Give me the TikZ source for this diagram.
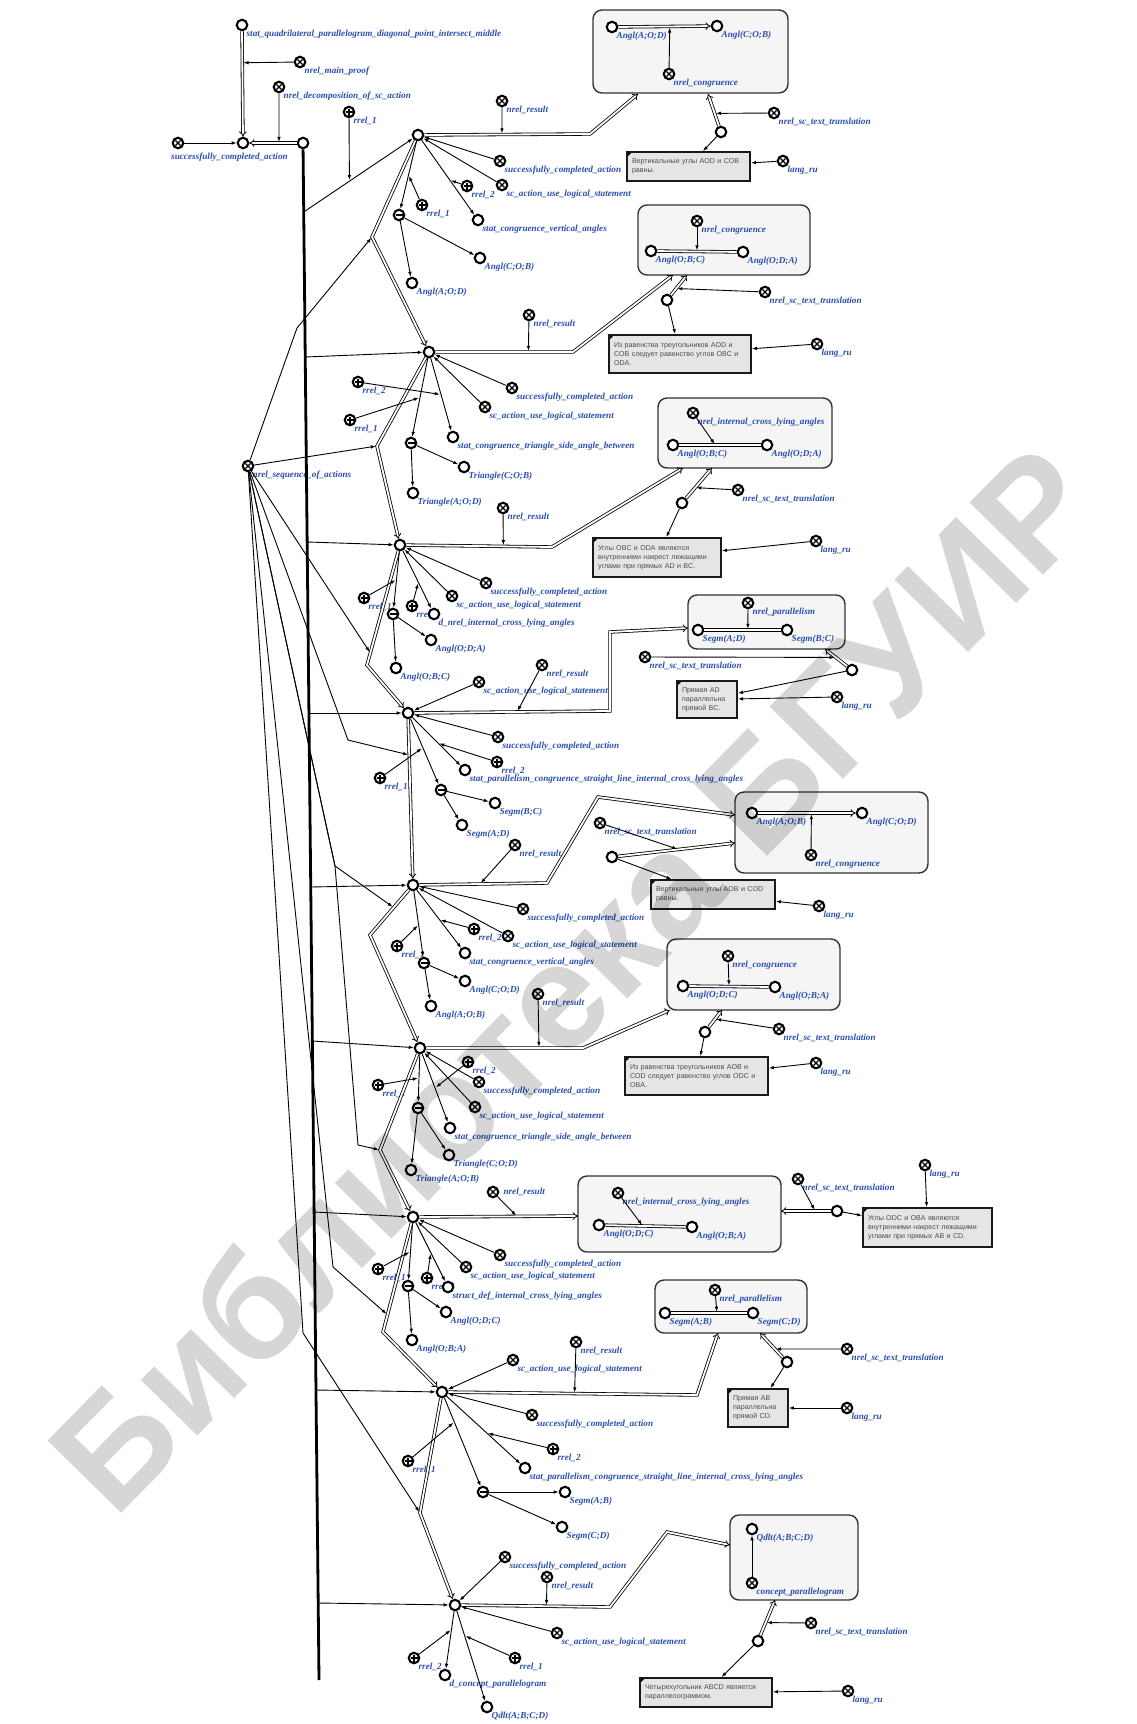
\documentclass[tikz,border=0pt]{standalone}
\usepackage{fontspec}
\usetikzlibrary{arrows.meta,calc}
\newfontfamily\lblfont{Liberation Serif}
\newfontfamily\boxfont{Liberation Sans}
\definecolor{lblblue}{RGB}{40,78,175}
\tikzset{
 lbl/.style={font=\lblfont\bfseries\itshape\fontsize{9.2}{10}\selectfont, text=lblblue, inner sep=0pt},
 lb/.style={label={[lbl]-45:#1}},
 nd/.style={circle, draw=black, line width=2.1pt, minimum size=10.5pt, inner sep=0pt, fill=white},
 el/.style={nd, lb={#1}}, el/.default={},
 cls/.style={nd, lb={#1}, path picture={\draw[line width=1.2pt]
   ([shift={(-2.6pt,-2.6pt)}]path picture bounding box.center) -- ([shift={(2.6pt,2.6pt)}]path picture bounding box.center)
   ([shift={(-2.6pt,2.6pt)}]path picture bounding box.center) -- ([shift={(2.6pt,-2.6pt)}]path picture bounding box.center);}},
 cls/.default={},
 rol/.style={nd, lb={#1}, path picture={\draw[line width=1.2pt]
   ([shift={(-3.5pt,0pt)}]path picture bounding box.center) -- ([shift={(3.5pt,0pt)}]path picture bounding box.center)
   ([shift={(0pt,3.5pt)}]path picture bounding box.center) -- ([shift={(0pt,-3.5pt)}]path picture bounding box.center);}},
 rol/.default={},
 neg/.style={nd, path picture={\draw[line width=1.3pt]
   ([shift={(-3.5pt,0pt)}]path picture bounding box.center) -- ([shift={(3.5pt,0pt)}]path picture bounding box.center);}},
 arr/.style={line width=0.9pt, -{Latex[length=5pt,width=3.6pt]}},
 arrm/.style={arr, shorten >=1.2pt},
 dbl/.style={double, double distance=1.8pt, line width=0.8pt, -{Implies}},
 dblu/.style={double, double distance=1.8pt, line width=0.8pt},
 bus/.style={line width=2.8pt},
 rbox/.style={rectangle, rounded corners=9pt, draw=black!80, line width=1.4pt, fill=black!4},
 tbox/.style={rectangle, draw=black!90, line width=1.8pt, fill=black!10, align=left,
   font=\boxfont\fontsize{7.1}{9}\selectfont, text=black!70, inner xsep=5pt, inner ysep=2pt,
   path picture={\fill[black] (path picture bounding box.north west) -- ++(5pt,0pt) -- ++(-5pt,-5pt) -- cycle;}},
 wmark/.style={font=\boxfont\bfseries\fontsize{150}{150}\selectfont, text=black, text opacity=0.16, rotate=45.5, inner sep=0pt},
}
\begin{document}
\begin{tikzpicture}[x=1pt,y=-1pt]
\useasboundingbox (0,0) rectangle (1136,1724);

% ---------------- top ----------------
\node[el={stat\_quadrilateral\_parallelogram\_diagonal\_point\_intersect\_middle}] (stat) at (242,25) {};
\node[cls={nrel\_main\_proof}] (mainproof) at (300,62) {};
\node[cls={nrel\_decomposition\_of\_sc\_action}] (decomp) at (279,87) {};
\node[cls, label={[lbl,anchor=north west,xshift=-7pt,yshift=-4pt]-90:successfully\_completed\_action}] (sca0) at (178,143) {};
\node[el] (P) at (243,143) {};
\node[el] (D) at (303,143) {};
\node[rol={rrel\_1}] (rr0) at (349,112) {};
\node[cls={nrel\_sequence\_of\_actions}] (seq) at (248,466) {};
\coordinate (busend) at (319,1680);
\coordinate (b1) at (303.7,212);
\coordinate (b2) at (305.2,357);
\coordinate (b3) at (307.2,542);
\coordinate (b4) at (308.9,713);
\coordinate (b5) at (310.7,887);
\coordinate (b6) at (312.3,1041);
\coordinate (b7) at (314.1,1212);
\coordinate (b8) at (316.0,1390);
\coordinate (b9) at (318.2,1603);

% ---------------- block 1 ----------------
\node[el] (A1) at (418,135) {};
\node[cls={nrel\_result}] (res1) at (502,101) {};
\node[rbox, minimum width=195pt, minimum height=83pt] (box1) at (690.5,51.5) {};
\node[el={Angl(A;O;D)}] (o1a) at (612,27) {};
\node[el={Angl(C;O;B)}] (o1b) at (717,26) {};
\node[cls={nrel\_congruence}] (cong1) at (669,74) {};
\node[el] (tr1) at (721,132) {};
\node[cls={nrel\_sc\_text\_translation}] (tt1) at (774,113) {};
\node[tbox, minimum width=123pt, minimum height=29pt, text width=113pt] (text1) at (688.5,166.5) {Вертикальные углы AOD и COB\\равны.};
\node[cls={lang\_ru}] (lr1) at (783,161) {};
\node[cls={successfully\_completed\_action}] (s1) at (500,161) {};
\node[cls={sc\_action\_use\_logical\_statement}] (u1) at (502,185) {};
\node[rol={rrel\_2}] (r21) at (467,186) {};
\node[el={stat\_congruence\_vertical\_angles}] (st1) at (478,220) {};
\node[rol={rrel\_1}] (r11) at (422,205) {};
\node[neg] (m1) at (399,215) {};
\node[el={Angl(C;O;B)}] (g1a) at (480,258) {};
\node[el={Angl(A;O;D)}] (g1b) at (412,283) {};
\coordinate (c1) at (590,134); \coordinate (e1) at (638,94); \coordinate (f1) at (708,94);

% ---------------- block 2 ----------------
\node[el] (A2) at (429,352) {};
\node[cls={nrel\_result}] (res2) at (529,315) {};
\node[rbox, minimum width=172pt, minimum height=70pt] (box2) at (724,240) {};
\node[cls={nrel\_congruence}] (cong2) at (697,221) {};
\node[el={Angl(O;B;C)}] (o2a) at (651,251) {};
\node[el={Angl(O;D;A)}] (o2b) at (743,252) {};
\node[el] (tr2) at (667,300) {};
\node[cls={nrel\_sc\_text\_translation}] (tt2) at (765,292) {};
\node[tbox, minimum width=142pt, minimum height=38pt, text width=132pt] (text2) at (680,354) {Из равенства треугольников AOD и\\COB следует равенство углов OBC и\\ODA.};
\node[cls={lang\_ru}] (lr2) at (817,344) {};
\node[cls={successfully\_completed\_action}] (s2) at (512,388) {};
\node[cls={sc\_action\_use\_logical\_statement}] (u2) at (485,407) {};
\node[el={stat\_congruence\_triangle\_side\_angle\_between}] (st2) at (453,437) {};
\node[rol={rrel\_2}] (r22) at (358,382) {};
\node[rol={rrel\_1}] (r12) at (350,420) {};
\node[neg] (m2) at (411,443) {};
\node[el={Triangle(C;O;B)}] (g2a) at (464,467) {};
\node[el={Triangle(A;O;D)}] (g2b) at (413,493) {};
\coordinate (c2) at (573,352); \coordinate (e2) at (673,275); \coordinate (f2) at (687,275);

% ---------------- block 3 ----------------
\node[el] (A3) at (400,545) {};
\node[cls={nrel\_result}] (res3) at (503,508) {};
\node[rbox, minimum width=174pt, minimum height=70pt] (box3) at (745,433) {};
\node[cls={nrel\_internal\_cross\_lying\_angles}] (ica3) at (693,413) {};
\node[el={Angl(O;B;C)}] (o3a) at (673,445) {};
\node[el={Angl(O;D;A)}] (o3b) at (767,445) {};
\node[el] (tr3) at (682,503) {};
\node[cls={nrel\_sc\_text\_translation}] (tt3) at (738,490) {};
\node[tbox, minimum width=128pt, minimum height=39pt, text width=118pt] (text3) at (657,557.5) {Углы OBC и ODA являются\\внутренними накрест лежащими\\углами при прямых AD и BC.};
\node[cls={lang\_ru}] (lr3) at (816,541) {};
\node[cls={successfully\_completed\_action}] (s3) at (486,583) {};
\node[cls={sc\_action\_use\_logical\_statement}] (u3) at (452,596) {};
\node[rol={rrel\_2}] (r23) at (412,606) {};
\node[rol={rrel\_1}] (r13) at (364,598) {};
\node[el={d\_nrel\_internal\_cross\_lying\_angles}] (st3) at (434,614) {};
\node[neg] (m3) at (393,614) {};
\node[el={Angl(O;D;A)}] (g3a) at (431,640) {};
\node[el={Angl(O;B;C)}] (g3b) at (396,668) {};
\coordinate (c3) at (552,547); \coordinate (e3) at (683,468); \coordinate (f3) at (712,468);

% ---------------- block 4 ----------------
\node[el] (A4) at (408,713) {};
\node[cls={nrel\_result}] (res4) at (542,665) {};
\node[cls={sc\_action\_use\_logical\_statement}] (u4) at (479,682) {};
\node[rbox, minimum width=157pt, minimum height=54pt] (box4) at (766.5,622) {};
\node[cls={nrel\_parallelism}] (par4) at (748,603) {};
\node[el={Segm(A;D)}] (o4a) at (698,630) {};
\node[el={Segm(B;C)}] (o4b) at (787,630) {};
\node[el] (tr4) at (852,670) {};
\node[cls={nrel\_sc\_text\_translation}] (tt4) at (645,657) {};
\node[tbox, minimum width=60pt, minimum height=37pt, text width=50pt] (text4) at (707,699.5) {Прямая AD\\параллельна\\прямой BC.};
\node[cls={lang\_ru}] (lr4) at (837,697) {};
\node[cls={successfully\_completed\_action}] (s4) at (498,737) {};
\node[rol={rrel\_2}] (r24) at (497,762) {};
\node[el={stat\_parallelism\_congruence\_straight\_line\_internal\_cross\_lying\_angles}] (st4) at (465,770) {};
\node[rol={rrel\_1}] (r14) at (380,778) {};
\node[neg] (m4) at (441,790) {};
\node[el={Segm(B;C)}] (g4a) at (495,803) {};
\node[el={Segm(A;D)}] (g4b) at (462,825) {};
\coordinate (c4a) at (610,711); \coordinate (c4b) at (610,632); \coordinate (e4) at (688,628); \coordinate (f4) at (825,649);

% ---------------- block 5 ----------------
\node[el] (A5) at (413,885) {};
\node[cls={nrel\_result}] (res5) at (515,845) {};
\node[rbox, minimum width=193pt, minimum height=81pt] (box5) at (831.5,832.5) {};
\node[el={Angl(A;O;B)}] (o5a) at (752,813) {};
\node[el={Angl(C;O;D)}] (o5b) at (862,813) {};
\node[cls={nrel\_congruence}] (cong5) at (811,855) {};
\node[el] (tr5) at (612,857) {};
\node[cls={nrel\_sc\_text\_translation}] (tt5) at (600,823) {};
\node[tbox, minimum width=124pt, minimum height=29pt, text width=114pt] (text5) at (713,894.5) {Вертикальные углы AOB и COD\\равны.};
\node[cls={lang\_ru}] (lr5) at (819,906) {};
\node[cls={successfully\_completed\_action}] (s5) at (523,909) {};
\node[cls={sc\_action\_use\_logical\_statement}] (u5) at (508,936) {};
\node[rol={rrel\_2}] (r25) at (474,929) {};
\node[el={stat\_congruence\_vertical\_angles}] (st5) at (465,953) {};
\node[rol={rrel\_1}] (r15) at (397,946) {};
\node[neg] (m5) at (424,963) {};
\node[el={Angl(C;O;D)}] (g5a) at (465,981) {};
\node[el={Angl(A;O;B)}] (g5b) at (431,1006) {};
\coordinate (c5a) at (547,883); \coordinate (c5b) at (598,797); \coordinate (e5) at (735,815); \coordinate (f5) at (735,843);

% ---------------- block 6 ----------------
\node[el] (A6) at (420,1048) {};
\node[cls={nrel\_result}] (res6) at (538,994) {};
\node[rbox, minimum width=173pt, minimum height=71pt] (box6) at (753.5,974.5) {};
\node[cls={nrel\_congruence}] (cong6) at (728,956) {};
\node[el={Angl(O;D;C)}] (o6a) at (683,986) {};
\node[el={Angl(O;B;A)}] (o6b) at (775,987) {};
\node[el] (tr6) at (705,1032) {};
\node[cls={nrel\_sc\_text\_translation}] (tt6) at (779,1029) {};
\node[tbox, minimum width=143pt, minimum height=38pt, text width=133pt] (text6) at (696.5,1076) {Из равенства треугольников AOB и\\COD следует равенство углов ODC и\\OBA.};
\node[cls={lang\_ru}] (lr6) at (816,1063) {};
\node[rol={rrel\_2}] (r26) at (468,1062) {};
\node[cls={successfully\_completed\_action}] (s6) at (479,1082) {};
\node[cls={sc\_action\_use\_logical\_statement}] (u6) at (475,1107) {};
\node[el={stat\_congruence\_triangle\_side\_angle\_between}] (st6) at (450,1128) {};
\node[rol={rrel\_1}] (r16) at (378,1085) {};
\node[neg] (m6) at (418,1108) {};
\node[el={Triangle(C;O;D)}] (g6a) at (449,1155) {};
\node[el={Triangle(A;O;B)}] (g6b) at (411,1170) {};
\coordinate (c6) at (583,1048); \coordinate (e6) at (670,1010); \coordinate (f6) at (722,1010);

% ---------------- block 7 ----------------
\node[el] (A7) at (413,1217) {};
\node[cls, label={[lbl,xshift=4pt]0:nrel\_result}] (res7) at (493,1192) {};
\node[rbox, minimum width=203pt, minimum height=76pt] (box7) at (679.5,1214) {};
\node[cls={nrel\_internal\_cross\_lying\_angles}] (ica7) at (618,1193) {};
\node[el={Angl(O;D;C)}] (o7a) at (599,1225) {};
\node[el={Angl(O;B;A)}] (o7b) at (692,1227) {};
\node[el] (tr7) at (837,1211) {};
\node[cls={nrel\_sc\_text\_translation}] (tt7) at (798,1179) {};
\node[tbox, minimum width=129pt, minimum height=39pt, text width=119pt] (text7) at (927.5,1227.5) {Углы ODC и OBA являются\\внутренними накрест лежащими\\углами при прямых AB и CD.};
\node[cls={lang\_ru}] (lr7) at (925,1165) {};
\node[cls={successfully\_completed\_action}] (s7) at (500,1255) {};
\node[cls={sc\_action\_use\_logical\_statement}] (u7) at (466,1267) {};
\node[rol={rrel\_2}] (r27) at (427,1278) {};
\node[el={struct\_def\_internal\_cross\_lying\_angles}] (st7) at (448,1287) {};
\node[rol={rrel\_1}] (r17) at (378,1269) {};
\node[neg] (m7) at (408,1286) {};
\node[el={Angl(O;D;C)}] (g7a) at (446,1312) {};
\node[el={Angl(O;B;A)}] (g7b) at (412,1340) {};
\coordinate (e7) at (578,1216); \coordinate (f7) at (781,1211);

% ---------------- block 8 ----------------
\node[el] (A8) at (442,1392) {};
\node[cls={nrel\_result}] (res8) at (576,1342) {};
\node[cls={sc\_action\_use\_logical\_statement}] (u8) at (513,1360) {};
\node[rbox, minimum width=152pt, minimum height=53pt] (box8) at (731,1306.5) {};
\node[cls={nrel\_parallelism}] (par8) at (715,1290) {};
\node[el={Segm(A;B)}] (o8a) at (665,1313) {};
\node[el={Segm(C;D)}] (o8b) at (753,1313) {};
\node[el] (tr8) at (787,1362) {};
\node[cls={nrel\_sc\_text\_translation}] (tt8) at (847,1349) {};
\node[tbox, minimum width=60pt, minimum height=38pt, text width=50pt] (text8) at (758,1408) {Прямая AB\\параллельна\\прямой CD.};
\node[cls={lang\_ru}] (lr8) at (847,1408) {};
\node[cls={successfully\_completed\_action}] (s8) at (532,1415) {};
\node[rol={rrel\_2}] (r28) at (553,1449) {};
\node[el={stat\_parallelism\_congruence\_straight\_line\_internal\_cross\_lying\_angles}] (st8) at (525,1468) {};
\node[rol={rrel\_1}] (r18) at (408,1461) {};
\node[neg] (m8) at (483,1492) {};
\node[el={Segm(A;B)}] (g8a) at (565,1492) {};
\node[el={Segm(C;D)}] (g8b) at (562,1527) {};
\coordinate (c8) at (697,1395); \coordinate (e8) at (718,1333); \coordinate (f8) at (760,1333);

% ---------------- block 9 ----------------
\node[el] (A9) at (455,1605) {};
\node[cls={nrel\_result}] (res9) at (547,1577) {};
\node[cls={successfully\_completed\_action}] (s9) at (505,1557) {};
\node[rbox, minimum width=128pt, minimum height=85pt] (box9) at (794,1557.5) {};
\node[el={Qdlt(A;B;C;D)}] (q9) at (752,1529) {};
\node[cls={concept\_parallelogram}] (cp9) at (752,1583) {};
\node[el] (tr9) at (758,1641) {};
\node[cls={nrel\_sc\_text\_translation}] (tt9) at (811,1623) {};
\node[tbox, minimum width=132pt, minimum height=29pt, text width=122pt] (text9) at (706,1692.5) {Четырехугольник ABCD является\\параллелограммом.};
\node[cls={lang\_ru}] (lr9) at (848,1691) {};
\node[cls={sc\_action\_use\_logical\_statement}] (u9) at (557,1633) {};
\node[rol={rrel\_1}] (r19) at (515,1658) {};
\node[el={Qdlt(A;B;C;D)}] (qd9) at (487,1707) {};
\node[rol={rrel\_2}] (r29) at (414,1658) {};
\node[el={d\_concept\_parallelogram}] (dc9) at (445,1675) {};
\coordinate (c9a) at (610,1607); \coordinate (c9b) at (667,1532); \coordinate (e9) at (730,1545); \coordinate (f9) at (775,1600);

% sequence bends
\coordinate (k12) at (372,237); \coordinate (k23) at (377,446); \coordinate (k34) at (367,665);
\coordinate (k56) at (370,935); \coordinate (k67) at (380,1150); \coordinate (k78) at (383,1332); \coordinate (k89) at (420,1513);
\coordinate (q1) at (297,328); \coordinate (q4) at (348,740); \coordinate (q5) at (335,866);
\coordinate (q6) at (358,1145); \coordinate (q7) at (333,1267); \coordinate (q8) at (303,1333);

% ================= connectors =================
\draw[dbl] (stat) -- (P);
\draw[arrm] (mainproof) -- ($(stat)!0.32!(P)$);
\draw[arr] (sca0) -- (P);
\draw[dbl] (D) -- (P);
\draw[arrm] (decomp) -- ($(D)!0.4!(P)$);
\draw[bus] (D) -- (busend);
\foreach \i in {1,...,9} {\draw[arr] (b\i) -- (A\i);}
\draw[arrm] (rr0) -- ($(b1)!0.4!(A1)$);

% action sequence
\draw[dbl] (A1) -- (k12) -- (A2);
\draw[dbl] (A2) -- (k23) -- (A3);
\draw[dbl] (A3) -- (k34) -- (A4);
\draw[dbl] (A4) -- (A5);
\draw[dbl] (A5) -- (k56) -- (A6);
\draw[dbl] (A6) -- (k67) -- (A7);
\draw[dbl] (A7) -- (k78) -- (A8);
\draw[dbl] (A8) -- (k89) -- (A9);
\draw[arrm] (seq) -- (q1) -- (k12);
\draw[arrm] (seq) -- (k23);
\draw[arrm] (seq) -- ($(A3)!0.9!(k34)$);
\draw[arrm] (seq) -- (q4) -- ($(A4)!0.244!(A5)$);
\draw[arrm] (seq) -- (q5) -- ($(A5)!0.45!(k56)$);
\draw[arrm] (seq) -- (q5) -- (q6) -- (k67);
\draw[arrm] (seq) -- (q7) -- ($(A7)!0.85!(k78)$);
\draw[arrm] (seq) -- (q8) -- (k89);

% block 1
\draw[dbl] (A1) -- (c1) -- (e1);
\draw[arrm] (res1) -- ($(A1)!0.488!(c1)$);
\draw[dbl] (o1a) -- (o1b);
\draw[arrm] (cong1) -- ($(o1a)!0.55!(o1b)$);
\draw[dbl] (tr1) -- (f1);
\draw[arrm] (tt1) -- ($(tr1)!0.49!(f1)$);
\draw[arr] (tr1) -- (text1);
\draw[arr] (lr1) -- (text1);
\draw[arr] (s1) -- (A1); \draw[arr] (u1) -- (A1);
\draw[arr] (A1) -- (st1); \draw[arrm] (r21) -- ($(A1)!0.53!(st1)$);
\draw[arr] (A1) -- (m1); \draw[arrm] (r11) -- ($(A1)!0.5!(m1)$);
\draw[arr] (m1) -- (g1a); \draw[arr] (m1) -- (g1b);

% block 2
\draw[dbl] (A2) -- (c2) -- (e2);
\draw[arrm] (res2) -- ($(A2)!0.69!(c2)$);
\draw[dblu] (o2a) -- (o2b);
\draw[arrm] (cong2) -- ($(o2a)!0.5!(o2b)$);
\draw[dbl] (tr2) -- (f2);
\draw[arrm] (tt2) -- ($(tr2)!0.46!(f2)$);
\draw[arr] (tr2) -- (text2);
\draw[arr] (lr2) -- (text2);
\draw[arr] (s2) -- (A2); \draw[arr] (u2) -- (A2);
\draw[arr] (A2) -- (st2); \draw[arrm] (r22) -- ($(A2)!0.5!(st2)$);
\draw[arr] (A2) -- (m2); \draw[arrm] (r12) -- ($(A2)!0.5!(m2)$);
\draw[arr] (m2) -- (g2a); \draw[arr] (m2) -- (g2b);

% block 3
\draw[dbl] (A3) -- (c3) -- (e3);
\draw[arrm] (res3) -- ($(A3)!0.68!(c3)$);
\draw[dblu] (o3a) -- (o3b);
\draw[arrm] (ica3) -- ($(o3a)!0.45!(o3b)$);
\draw[dbl] (tr3) -- (f3);
\draw[arrm] (tt3) -- ($(tr3)!0.44!(f3)$);
\draw[arr] (tr3) -- (text3);
\draw[arr] (lr3) -- (text3);
\draw[arr] (s3) -- (A3); \draw[arr] (u3) -- (A3);
\draw[arr] (A3) -- (st3); \draw[arrm] (r23) -- ($(A3)!0.54!(st3)$);
\draw[arr] (A3) -- (m3); \draw[arrm] (r13) -- ($(A3)!0.5!(m3)$);
\draw[arr] (m3) -- (g3a); \draw[arr] (m3) -- (g3b);

% block 4
\draw[dbl] (A4) -- (c4a) -- (c4b) -- (e4);
\draw[arrm] (res4) -- ($(A4)!0.54!(c4a)$);
\draw[arr] (u4) -- (A4);
\draw[dblu] (o4a) -- (o4b);
\draw[arrm] (par4) -- ($(o4a)!0.56!(o4b)$);
\draw[dbl] (tr4) -- (f4);
\draw[arrm] (tt4) -- ($(tr4)!0.6!(f4)$);
\draw[arr] (tr4) -- (text4);
\draw[arr] (lr4) -- (text4);
\draw[arr] (s4) -- (A4);
\draw[arr] (A4) -- (st4); \draw[arrm] (r24) -- ($(A4)!0.53!(st4)$);
\draw[arr] (A4) -- (m4); \draw[arrm] (r14) -- ($(A4)!0.45!(m4)$);
\draw[arr] (m4) -- (g4a); \draw[arr] (m4) -- (g4b);

% block 5
\draw[dbl] (A5) -- (c5a) -- (c5b) -- (e5);
\draw[arrm] (res5) -- ($(A5)!0.5!(c5a)$);
\draw[dbl] (o5a) -- (o5b);
\draw[arrm] (cong5) -- ($(o5a)!0.54!(o5b)$);
\draw[dbl] (tr5) -- (f5);
\draw[arrm] (tt5) -- ($(tr5)!0.54!(f5)$);
\draw[arr] (tr5) -- (text5);
\draw[arr] (lr5) -- (text5);
\draw[arr] (s5) -- (A5); \draw[arr] (u5) -- (A5);
\draw[arr] (A5) -- (st5); \draw[arrm] (r25) -- ($(A5)!0.51!(st5)$);
\draw[arr] (A5) -- (m5); \draw[arrm] (r15) -- ($(A5)!0.51!(m5)$);
\draw[arr] (m5) -- (g5a); \draw[arr] (m5) -- (g5b);

% block 6
\draw[dbl] (A6) -- (c6) -- (e6);
\draw[arrm] (res6) -- ($(A6)!0.73!(c6)$);
\draw[dblu] (o6a) -- (o6b);
\draw[arrm] (cong6) -- ($(o6a)!0.5!(o6b)$);
\draw[dbl] (tr6) -- (f6);
\draw[arrm] (tt6) -- ($(tr6)!0.59!(f6)$);
\draw[arr] (tr6) -- (text6);
\draw[arr] (lr6) -- (text6);
\draw[arr] (s6) -- (A6); \draw[arr] (u6) -- (A6);
\draw[arr] (A6) -- (st6); \draw[arrm] (r26) -- ($(A6)!0.5!(st6)$);
\draw[arr] (A6) -- (m6); \draw[arrm] (r16) -- ($(A6)!0.5!(m6)$);
\draw[arr] (m6) -- (g6a); \draw[arr] (m6) -- (g6b);

% block 7
\draw[dbl] (A7) -- (e7);
\draw[arrm] (res7) -- ($(A7)!0.63!(e7)$);
\draw[dblu] (o7a) -- (o7b);
\draw[arrm] (ica7) -- ($(o7a)!0.47!(o7b)$);
\draw[dbl] (tr7) -- (f7);
\draw[arrm] (tt7) -- ($(tr7)!0.39!(f7)$);
\draw[arr] (tr7) -- (text7);
\draw[arr] (lr7) -- (text7);
\draw[arr] (s7) -- (A7); \draw[arr] (u7) -- (A7);
\draw[arr] (A7) -- (st7); \draw[arrm] (r27) -- ($(A7)!0.51!(st7)$);
\draw[arr] (A7) -- (m7); \draw[arrm] (r17) -- ($(A7)!0.5!(m7)$);
\draw[arr] (m7) -- (g7a); \draw[arr] (m7) -- (g7b);

% block 8
\draw[dbl] (A8) -- (c8) -- (e8);
\draw[arrm] (res8) -- ($(A8)!0.52!(c8)$);
\draw[arr] (u8) -- (A8);
\draw[dblu] (o8a) -- (o8b);
\draw[arrm] (par8) -- ($(o8a)!0.59!(o8b)$);
\draw[dbl] (tr8) -- (f8);
\draw[arrm] (tt8) -- ($(tr8)!0.45!(f8)$);
\draw[arr] (tr8) -- (text8);
\draw[arr] (lr8) -- (text8);
\draw[arr] (s8) -- (A8);
\draw[arr] (A8) -- (st8); \draw[arrm] (r28) -- ($(A8)!0.54!(st8)$);
\draw[arr] (A8) -- (m8); \draw[arrm] (r18) -- ($(A8)!0.3!(m8)$);
\draw[arr] (m8) -- (g8a); \draw[arr] (m8) -- (g8b);

% block 9
\draw[dbl] (A9) -- (c9a) -- (c9b) -- (e9);
\draw[arrm] (res9) -- ($(A9)!0.59!(c9a)$);
\draw[arr] (s9) -- (A9);
\draw[arr] (cp9) -- (q9);
\draw[dbl] (tr9) -- (f9);
\draw[arrm] (tt9) -- ($(tr9)!0.45!(f9)$);
\draw[arr] (tr9) -- (text9);
\draw[arr] (lr9) -- (text9);
\draw[arr] (u9) -- (A9);
\draw[arr] (A9) -- (qd9); \draw[arrm] (r19) -- ($(A9)!0.3!(qd9)$);
\draw[arr] (A9) -- (dc9); \draw[arrm] (r29) -- ($(A9)!0.35!(dc9)$);

% watermark
\node[wmark] (wm) at (572,978) {Библиотека БГУИР};
\end{tikzpicture}
\end{document}
